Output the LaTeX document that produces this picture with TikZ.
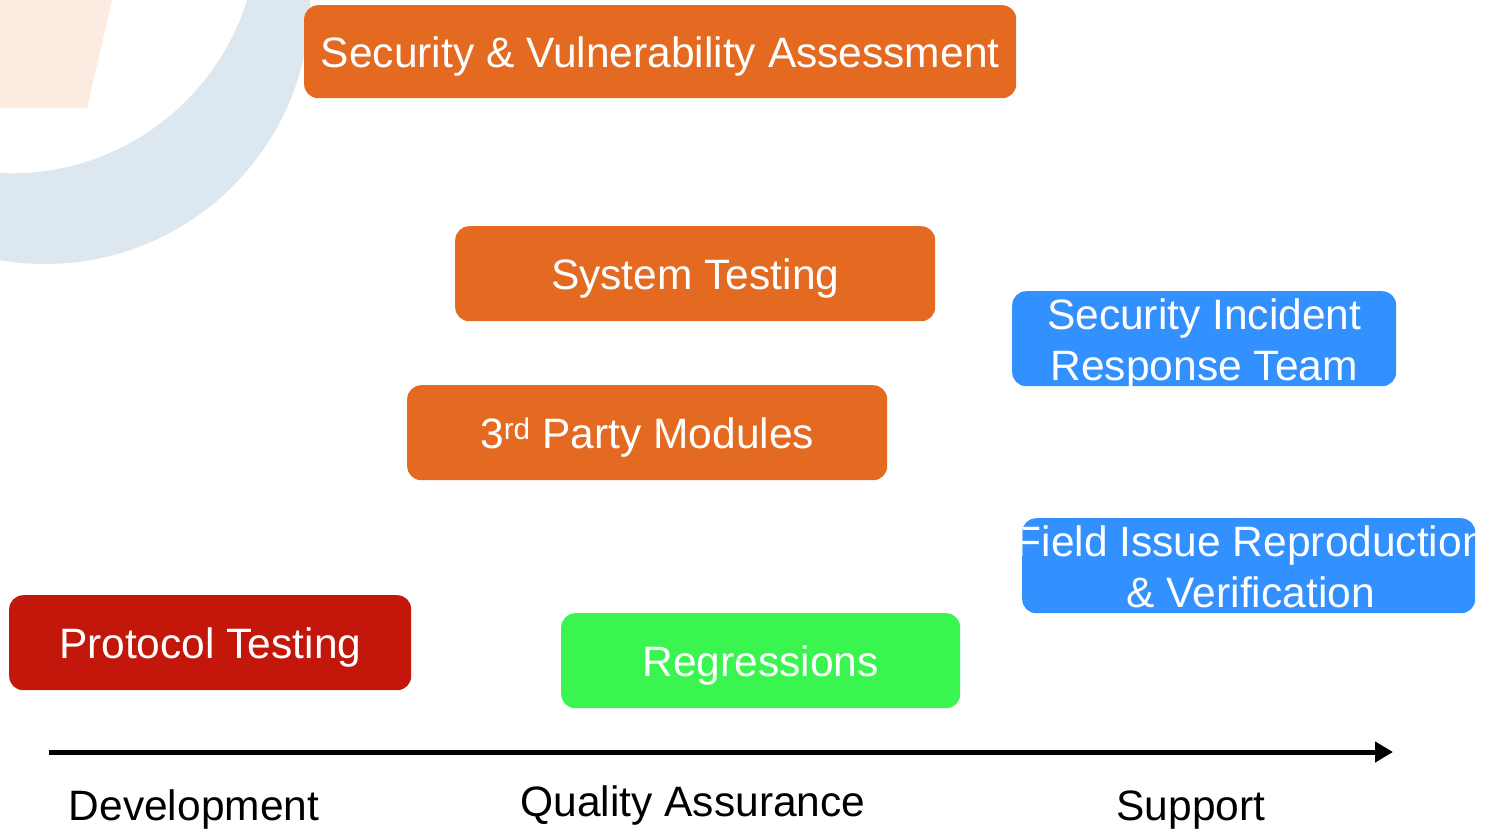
\documentclass[tikz,border=0pt]{standalone}
\usepackage{fontspec}
\setmainfont{Liberation Sans}
\usetikzlibrary{arrows.meta}
\definecolor{orangeb}{HTML}{E46A21}
\definecolor{blueb}{HTML}{3390FF}
\definecolor{redb}{HTML}{C4170C}
\definecolor{greenb}{HTML}{3AF550}
\definecolor{ringc}{HTML}{DDE7F0}
\definecolor{peachc}{HTML}{FCEBE1}
\tikzset{
  box/.style={rectangle, rounded corners=14pt, inner sep=0pt, text=white,
    font=\fontsize{42.5}{51}\selectfont, align=center, anchor=north west,
    text height=31pt, text depth=0pt},
  twoline/.style={text height=83pt, text depth=0pt},
  lab/.style={font=\fontsize{42.5}{51}\selectfont, text=black, inner sep=0pt, anchor=base},
}
\begin{document}
\begin{tikzpicture}[x=1pt,y=-1pt]
\useasboundingbox (0,0) rectangle (1485,830);
\begin{scope}
  \clip (0,0) rectangle (1485,830);
  % faint background logo
  \fill[peachc] (0,0) -- (112,0) -- (87,108) -- (0,108) -- cycle;
  \fill[ringc, even odd rule] (45.2,-1) circle (265) (11.6,-73.2) circle (246.5);
\end{scope}
% boxes
\node[box, fill=orangeb, minimum width=712pt, minimum height=93pt] (sva) at (304,5) {Security \& Vulnerability Assessment};
\node[box, fill=orangeb, minimum width=480pt, minimum height=95pt] (st) at (455,226) {System Testing};
\node[box, fill=orangeb, minimum width=480pt, minimum height=95pt] (tpm) at (407,385) {3\textsuperscript{rd} Party Modules};
\node[box, twoline, fill=blueb, minimum width=384pt, minimum height=95pt] (sirt) at (1012,291) {Security Incident\\Response Team};
\node[box, fill=blueb, minimum width=453pt, minimum height=95pt] (fiv) at (1022,518) {};
\begin{scope}
  \clip[rounded corners=14pt] (fiv.south west) rectangle (fiv.north east);
  \node[box, twoline, anchor=center, xshift=2pt] (fivt) at (fiv.center) {Field Issue Reproduction\\\& Verification};
\end{scope}
\node[box, fill=redb, minimum width=402pt, minimum height=95pt] (pt) at (9,595) {Protocol Testing};
\node[box, fill=greenb, minimum width=399pt, minimum height=95pt] (reg) at (561,613) {Regressions};
% timeline
\coordinate (as) at (49,752);
\coordinate (ae) at (1393,752);
\draw[line width=5pt, -{Triangle[length=18pt,width=20pt]}] (as) -- (ae);
\node[lab] (dev) at (194,820) {Development};
\node[lab] (qa) at (693,816) {Quality Assurance};
\node[lab] (sup) at (1191,820) {Support};
\end{tikzpicture}
\end{document}
